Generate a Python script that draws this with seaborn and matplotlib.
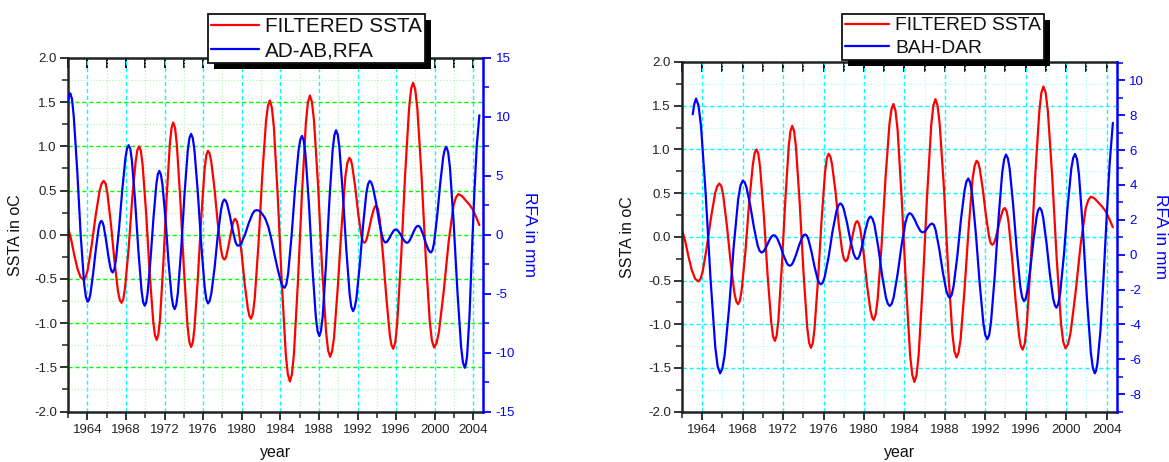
import matplotlib
matplotlib.use("Agg")
import matplotlib.pyplot as plt
import seaborn as sns
import pandas as pd
from matplotlib.ticker import MultipleLocator, FixedLocator
from matplotlib.patches import Rectangle
from matplotlib.transforms import IdentityTransform
from matplotlib.lines import Line2D

# ---------------- data ----------------
sst_year = [1962.00, 1962.32, 1962.65, 1962.97, 1963.30, 1963.62, 1963.83, 1964.04, 1964.45, 1964.87,
            1965.28, 1965.49, 1965.70, 1965.89, 1966.07, 1966.44, 1966.81, 1967.18, 1967.37, 1967.55,
            1967.73, 1967.91, 1968.28, 1968.64, 1969.01, 1969.19, 1969.37, 1969.55, 1969.73, 1970.10,
            1970.46, 1970.83, 1971.01, 1971.19, 1971.36, 1971.53, 1971.87, 1972.22, 1972.56, 1972.73,
            1972.90, 1973.09, 1973.27, 1973.64, 1974.01, 1974.38, 1974.57, 1974.75, 1974.93, 1975.10,
            1975.45, 1975.80, 1976.15, 1976.33, 1976.50, 1976.67, 1976.84, 1977.17, 1977.51, 1977.84,
            1978.01, 1978.18, 1978.30, 1978.41, 1978.64, 1978.88, 1979.11, 1979.22, 1979.34, 1979.50,
            1979.66, 1979.99, 1980.31, 1980.64, 1980.80, 1980.96, 1981.16, 1981.35, 1981.74, 1982.13,
            1982.52, 1982.72, 1982.91, 1983.12, 1983.33, 1983.74, 1984.16, 1984.57, 1984.78, 1984.99,
            1985.20, 1985.41, 1985.82, 1986.24, 1986.65, 1986.86, 1987.07, 1987.28, 1987.49, 1987.91,
            1988.32, 1988.74, 1988.95, 1989.16, 1989.36, 1989.56, 1989.95, 1990.35, 1990.74, 1990.94,
            1991.14, 1991.30, 1991.45, 1991.76, 1992.07, 1992.38, 1992.53, 1992.69, 1992.82, 1992.94,
            1993.19, 1993.44, 1993.69, 1993.82, 1993.94, 1994.12, 1994.29, 1994.64, 1995.00, 1995.35,
            1995.52, 1995.70, 1995.91, 1996.11, 1996.52, 1996.93, 1997.34, 1997.55, 1997.75, 1997.97,
            1998.19, 1998.62, 1999.06, 1999.49, 1999.71, 1999.93, 2000.18, 2000.43, 2000.93, 2001.44,
            2001.94, 2002.19, 2002.44, 2002.80, 2003.20, 2003.60, 2003.92, 2004.25, 2004.62]
sst_value = [0.08, -0.05, -0.23, -0.38, -0.48, -0.51, -0.48, -0.40, -0.12, 0.22,
             0.50, 0.58, 0.61, 0.58, 0.48, 0.13, -0.29, -0.64, -0.74, -0.77,
             -0.73, -0.60, -0.16, 0.39, 0.83, 0.96, 1.00, 0.95, 0.79, 0.24,
             -0.43, -0.98, -1.14, -1.19, -1.13, -0.96, -0.34, 0.42, 1.04, 1.21,
             1.27, 1.21, 1.03, 0.39, -0.39, -1.03, -1.21, -1.27, -1.22, -1.06,
             -0.50, 0.18, 0.74, 0.90, 0.95, 0.92, 0.83, 0.53, 0.14, -0.16,
             -0.25, -0.28, -0.27, -0.24, -0.12, 0.02, 0.14, 0.17, 0.18, 0.15,
             0.07, -0.21, -0.56, -0.84, -0.92, -0.95, -0.89, -0.72, -0.10, 0.67,
             1.29, 1.46, 1.52, 1.44, 1.22, 0.42, -0.56, -1.36, -1.58, -1.66,
             -1.58, -1.35, -0.54, 0.46, 1.27, 1.50, 1.575, 1.50, 1.29, 0.56,
             -0.36, -1.10, -1.31, -1.38, -1.32, -1.17, -0.60, 0.09, 0.66, 0.81,
             0.87, 0.85, 0.78, 0.54, 0.24, 0.00, -0.07, -0.09, -0.08, -0.05,
             0.06, 0.19, 0.29, 0.32, 0.33, 0.29, 0.18, -0.23, -0.73, -1.14,
             -1.25, -1.29, -1.22, -1.00, -0.25, 0.68, 1.43, 1.65, 1.72, 1.65,
             1.44, 0.69, -0.24, -0.99, -1.20, -1.275, -1.23, -1.10, -0.64, -0.08,
             0.33, 0.42, 0.46, 0.44, 0.39, 0.34, 0.29, 0.21, 0.11]

adab_year = [1962.00, 1962.12, 1962.24, 1962.42, 1962.60, 1962.96, 1963.32, 1963.68, 1963.86, 1964.04,
             1964.18, 1964.32, 1964.60, 1964.89, 1965.17, 1965.31, 1965.45, 1965.57, 1965.69, 1965.92,
             1966.16, 1966.39, 1966.51, 1966.63, 1966.80, 1966.96, 1967.29, 1967.63, 1967.96, 1968.12,
             1968.29, 1968.46, 1968.62, 1968.95, 1969.29, 1969.62, 1969.78, 1969.95, 1970.10, 1970.25,
             1970.55, 1970.86, 1971.16, 1971.31, 1971.46, 1971.62, 1971.78, 1972.10, 1972.41, 1972.73,
             1972.89, 1973.05, 1973.22, 1973.39, 1973.73, 1974.07, 1974.41, 1974.58, 1974.75, 1974.93,
             1975.10, 1975.45, 1975.81, 1976.16, 1976.33, 1976.51, 1976.68, 1976.85, 1977.19, 1977.52,
             1977.86, 1978.03, 1978.20, 1978.34, 1978.48, 1978.77, 1979.05, 1979.34, 1979.48, 1979.62,
             1979.81, 1980.00, 1980.38, 1980.75, 1981.13, 1981.32, 1981.51, 1981.73, 1981.95, 1982.40,
             1982.75, 1983.05, 1983.40, 1983.75, 1984.10, 1984.28, 1984.45, 1984.63, 1984.81, 1985.17,
             1985.53, 1985.89, 1986.07, 1986.25, 1986.43, 1986.61, 1986.97, 1987.32, 1987.68, 1987.86,
             1988.04, 1988.21, 1988.39, 1988.73, 1989.08, 1989.42, 1989.60, 1989.77, 1989.95, 1990.12,
             1990.47, 1990.83, 1991.18, 1991.35, 1991.53, 1991.70, 1991.88, 1992.22, 1992.57, 1992.91,
             1993.09, 1993.26, 1993.42, 1993.58, 1993.91, 1994.23, 1994.56, 1994.72, 1994.88, 1994.99,
             1995.10, 1995.31, 1995.53, 1995.74, 1995.85, 1995.96, 1996.08, 1996.19, 1996.43, 1996.66,
             1996.90, 1997.01, 1997.13, 1997.24, 1997.36, 1997.59, 1997.81, 1998.04, 1998.16, 1998.27,
             1998.41, 1998.54, 1998.81, 1999.08, 1999.35, 1999.49, 1999.62, 1999.78, 1999.94, 2000.25,
             2000.57, 2000.88, 2001.04, 2001.20, 2001.39, 2001.58, 2001.96, 2002.35, 2002.73, 2002.92,
             2003.11, 2003.23, 2003.35, 2003.60, 2003.85, 2004.10, 2004.35, 2004.62]
adab_rfa = [11.3, 11.8, 12.0, 11.5, 10.0, 5.4, -0.1, -4.2, -5.3, -5.69,
            -5.52, -5.04, -3.32, -1.19, 0.53, 1.01, 1.18, 1.07, 0.76, -0.33,
            -1.69, -2.78, -3.09, -3.20, -2.94, -2.17, 0.53, 3.87, 6.57, 7.34,
            7.60, 7.27, 6.31, 2.90, -1.33, -4.74, -5.70, -6.03, -5.75, -4.94,
            -2.08, 1.47, 4.33, 5.14, 5.42, 5.13, 4.31, 1.37, -2.26, -5.20,
            -6.02, -6.31, -5.95, -4.90, -1.18, 3.43, 7.15, 8.20, 8.56, 8.21,
            7.19, 3.60, -0.87, -4.46, -5.48, -5.83, -5.61, -4.99, -2.79, -0.05,
            2.15, 2.77, 2.99, 2.89, 2.62, 1.63, 0.42, -0.57, -0.84, -0.94,
            -0.87, -0.65, 0.11, 1.04, 1.80, 2.02, 2.09, 2.06, 1.95, 1.45,
            0.70, -0.30, -1.70, -3.00, -4.10, -4.40, -4.50, -4.18, -3.28, -0.05,
            3.94, 7.17, 8.07, 8.39, 7.97, 6.78, 2.53, -2.74, -6.99, -8.18,
            -8.60, -8.17, -6.94, -2.57, 2.84, 7.21, 8.44, 8.87, 8.49, 7.41,
            3.57, -1.18, -5.02, -6.10, -6.48, -6.21, -5.43, -2.67, 0.76, 3.52,
            4.30, 4.57, 4.44, 4.07, 2.77, 1.14, -0.16, -0.53, -0.66, -0.63,
            -0.55, -0.28, 0.07, 0.34, 0.42, 0.45, 0.42, 0.34, 0.06, -0.29,
            -0.57, -0.65, -0.68, -0.64, -0.54, -0.18, 0.26, 0.62, 0.72, 0.76,
            0.70, 0.55, -0.02, -0.72, -1.29, -1.45, -1.50, -1.28, -0.65, 1.59,
            4.37, 6.61, 7.24, 7.46, 7.00, 5.68, 0.99, -4.82, -9.51, -10.83,
            -11.29, -11.0, -10.3, -6.9, -1.5, 3.5, 7.5, 10.14]

bahdar_year = [1963.06, 1963.22, 1963.39, 1963.63, 1963.87, 1964.34, 1964.82, 1965.29, 1965.53, 1965.77,
               1965.99, 1966.22, 1966.67, 1967.11, 1967.56, 1967.79, 1968.01, 1968.20, 1968.38, 1968.75,
               1969.12, 1969.49, 1969.67, 1969.86, 1969.98, 1970.11, 1970.35, 1970.60, 1970.84, 1970.97,
               1971.09, 1971.25, 1971.41, 1971.72, 1972.04, 1972.35, 1972.51, 1972.67, 1972.82, 1972.97,
               1973.28, 1973.58, 1973.89, 1974.04, 1974.19, 1974.35, 1974.50, 1974.81, 1975.12, 1975.43,
               1975.59, 1975.74, 1975.93, 1976.12, 1976.51, 1976.89, 1977.28, 1977.47, 1977.66, 1977.83,
               1977.99, 1978.32, 1978.65, 1978.98, 1979.15, 1979.31, 1979.45, 1979.58, 1979.85, 1980.12,
               1980.39, 1980.53, 1980.66, 1980.85, 1981.04, 1981.42, 1981.79, 1982.17, 1982.36, 1982.55,
               1982.75, 1982.94, 1983.33, 1983.72, 1984.11, 1984.31, 1984.50, 1984.63, 1984.76, 1985.03,
               1985.29, 1985.56, 1985.69, 1985.82, 1986.01, 1986.19, 1986.38, 1986.56, 1986.75, 1986.93,
               1987.10, 1987.45, 1987.80, 1988.15, 1988.33, 1988.50, 1988.68, 1988.86, 1989.23, 1989.59,
               1989.96, 1990.14, 1990.32, 1990.51, 1990.70, 1991.07, 1991.45, 1991.82, 1992.01, 1992.20,
               1992.39, 1992.57, 1992.94, 1993.31, 1993.68, 1993.87, 1994.05, 1994.23, 1994.41, 1994.76,
               1995.12, 1995.47, 1995.65, 1995.83, 1995.99, 1996.14, 1996.45, 1996.77, 1997.08, 1997.23,
               1997.39, 1997.56, 1997.72, 1998.05, 1998.38, 1998.71, 1998.88, 1999.04, 1999.22, 1999.41,
               1999.78, 2000.14, 2000.51, 2000.70, 2000.88, 2001.08, 2001.27, 2001.66, 2002.05, 2002.44,
               2002.64, 2002.83, 2002.96, 2003.10, 2003.40, 2003.70, 2004.00, 2004.30, 2004.62]
bahdar_rfa = [8.05, 8.65, 8.95, 8.56, 7.45, 3.52, -1.37, -5.30, -6.41, -6.80,
              -6.53, -5.75, -2.99, 0.44, 3.20, 3.98, 4.25, 4.15, 3.86, 2.83,
              1.55, 0.52, 0.23, 0.13, 0.15, 0.22, 0.47, 0.78, 1.03, 1.10,
              1.12, 1.08, 0.95, 0.52, -0.03, -0.46, -0.59, -0.63, -0.59, -0.46,
              -0.01, 0.54, 0.99, 1.12, 1.16, 1.09, 0.89, 0.17, -0.71, -1.43,
              -1.63, -1.70, -1.59, -1.26, -0.10, 1.34, 2.50, 2.83, 2.94, 2.86,
              2.64, 1.84, 0.85, 0.05, -0.17, -0.25, -0.19, -0.02, 0.59, 1.35,
              1.96, 2.13, 2.19, 2.06, 1.70, 0.42, -1.17, -2.45, -2.81, -2.94,
              -2.81, -2.43, -1.10, 0.54, 1.87, 2.25, 2.38, 2.35, 2.28, 2.00,
              1.66, 1.38, 1.31, 1.28, 1.33, 1.46, 1.61, 1.74, 1.79, 1.69,
              1.39, 0.32, -1.00, -2.07, -2.37, -2.47, -2.30, -1.82, -0.11, 2.01,
              3.72, 4.20, 4.37, 4.14, 3.49, 1.19, -1.67, -3.97, -4.62, -4.85,
              -4.59, -3.84, -1.20, 2.09, 4.73, 5.48, 5.74, 5.53, 4.94, 2.84,
              0.24, -1.86, -2.45, -2.66, -2.53, -2.15, -0.81, 0.84, 2.18, 2.56,
              2.69, 2.55, 2.15, 0.71, -1.06, -2.50, -2.90, -3.04, -2.82, -2.20,
              0.00, 2.74, 4.94, 5.56, 5.78, 5.47, 4.58, 1.44, -2.46, -5.60,
              -6.49, -6.80, -6.65, -6.2, -4.3, -1.3, 2.1, 5.2, 7.56]

sst_label = "FILTERED SSTA"
rfa_labels = ["AD-AB,RFA", "BAH-DAR"]
year_ticks = [1964, 1968, 1972, 1976, 1980, 1984, 1988, 1992, 1996, 2000, 2004]
sst_ticks = [-2.0, -1.5, -1.0, -0.5, 0.0, 0.5, 1.0, 1.5, 2.0]
rfa_ticks_left = [-15, -10, -5, 0, 5, 10, 15]
rfa_ticks_right = [-8, -6, -4, -2, 0, 2, 4, 6, 8, 10]

# ---------------- style ----------------
sns.set_theme(style="white")
plt.rcParams["font.family"] = ["Liberation Sans", "DejaVu Sans"]
plt.rcParams["axes.unicode_minus"] = False

RED = "#FF0000"
BLUE = "#0000FF"
LW = 1.6

fig = plt.figure(figsize=(11.69, 4.62), dpi=100)
W, H = 1169.0, 462.0


def make_panel(px, rfa_year, rfa_vals, rfa_label, rfa_lim, rfa_ticks, rfa_minor,
               grid_style, leg_px, leg_fs, ylab_off, rlab_off):
    x0, x1, ytop, ybot = px
    ax = fig.add_axes([x0 / W, 1 - ybot / H, (x1 - x0) / W, (ybot - ytop) / H])
    ax.set_facecolor("white")
    ax2 = ax.twinx()

    df_s = pd.DataFrame({"year": sst_year, "v": sst_value})
    df_r = pd.DataFrame({"year": rfa_year, "v": rfa_vals})
    sns.lineplot(data=df_s, x="year", y="v", ax=ax, color=RED, lw=LW,
                 sort=False, estimator=None, legend=False)
    sns.lineplot(data=df_r, x="year", y="v", ax=ax2, color=BLUE, lw=LW,
                 sort=False, estimator=None, legend=False)
    for a in (ax, ax2):
        for ln in a.get_lines():
            ln.set_solid_joinstyle("round")
            ln.set_solid_capstyle("round")

    ax.set_xlim(1962, 2005)
    ax.set_ylim(-2.0, 2.0)
    ax2.set_ylim(*rfa_lim)

    ax.xaxis.set_major_locator(FixedLocator(year_ticks))
    ax.xaxis.set_minor_locator(MultipleLocator(2))
    ax.yaxis.set_major_locator(FixedLocator(sst_ticks))
    ax.yaxis.set_minor_locator(MultipleLocator(0.25))
    ax.set_yticklabels([f"{t:.1f}" for t in sst_ticks])
    ax2.yaxis.set_major_locator(FixedLocator(rfa_ticks))
    ax2.yaxis.set_minor_locator(MultipleLocator(rfa_minor))
    ax2.set_yticklabels([str(t) for t in rfa_ticks])

    # grid
    ax.set_axisbelow(True)
    if grid_style == "green":
        ax.grid(True, which="major", axis="x", color="#00FFFF", ls=(0, (3, 2)), lw=1.0)
        ax.grid(True, which="minor", axis="x", color="#B8F5B8", ls=(0, (1, 1.5)), lw=0.9)
        ax.grid(True, which="major", axis="y", color="#00FF00", ls=(0, (3, 2)), lw=1.0)
        ax.grid(True, which="minor", axis="y", color="#B8F5B8", ls=(0, (1, 1.5)), lw=0.9)
    else:
        ax.grid(True, which="major", axis="both", color="#00FFFF", ls=(0, (3, 2)), lw=1.0)
        ax.grid(True, which="minor", axis="both", color="#A8FFFF", ls=(0, (1, 1.5)), lw=0.9)

    # spines
    for s in ["left", "top", "bottom"]:
        ax.spines[s].set_color("#222222")
        ax.spines[s].set_linewidth(1.8)
        ax2.spines[s].set_visible(False)
    ax.spines["right"].set_visible(False)
    ax2.spines["right"].set_color(BLUE)
    ax2.spines["right"].set_linewidth(1.8)

    # ticks
    ax.tick_params(axis="x", which="both", bottom=True, top=False, direction="out",
                   colors="#222222", labelcolor="#222222", labelsize=9.5, pad=3)
    ax.tick_params(axis="x", which="major", length=6, width=1.3)
    ax.tick_params(axis="x", which="minor", length=4, width=1.1)
    ax.tick_params(axis="y", which="both", left=True, right=False, direction="out",
                   colors="#222222", labelcolor="#222222", labelsize=9.5, pad=2)
    ax.tick_params(axis="y", which="major", length=6, width=1.3)
    ax.tick_params(axis="y", which="minor", length=4, width=1.1)
    top = ax.secondary_xaxis("top")
    top.xaxis.set_major_locator(FixedLocator(year_ticks))
    top.xaxis.set_minor_locator(MultipleLocator(2))
    top.tick_params(which="both", direction="in", length=7, width=1.4,
                    labeltop=False, colors="#111111")
    top.spines["top"].set_visible(False)
    ax2.tick_params(axis="y", which="both", right=True, direction="out",
                    colors=BLUE, labelcolor=BLUE, labelsize=9.5, pad=3)
    ax2.tick_params(axis="y", which="major", length=6, width=1.3)
    ax2.tick_params(axis="y", which="minor", length=4, width=1.1)

    # labels
    ax.set_xlabel("year", fontsize=11.5, color="#111111")
    ax.xaxis.set_label_coords(0.5, -(453 - ybot) / (ybot - ytop))
    ax.xaxis.label.set_va("center")
    ax.set_ylabel("SSTA in oC", fontsize=11.5, color="#111111", va="center")
    ax.yaxis.set_label_coords(-ylab_off / (x1 - x0), 0.5)
    ax2.set_ylabel("RFA in mm", fontsize=12.5, color=BLUE, rotation=270,
                   va="center", ha="center")
    ax2.yaxis.set_label_coords(1 + rlab_off / (x1 - x0), 0.5)

    # legend
    handles = [Line2D([], [], color=RED, lw=LW), Line2D([], [], color=BLUE, lw=LW)]
    lx, ly = leg_px
    leg = ax2.legend(handles, [sst_label, rfa_label], loc="upper left",
                     bbox_to_anchor=((lx - x0) / (x1 - x0), (ybot - ly) / (ybot - ytop)),
                     borderaxespad=0, fontsize=leg_fs, frameon=True, fancybox=False,
                     framealpha=1, edgecolor="#111111", handlelength=2.3,
                     handletextpad=0.3, borderpad=0.15, labelspacing=0.25)
    leg.get_frame().set_linewidth(1.3)
    for t in leg.get_texts():
        t.set_color("#111111")
    leg.set_zorder(10)
    return ax, ax2, leg


ax_l, ax_l2, leg_l = make_panel((68, 483, 58, 411.5), adab_year, adab_rfa, rfa_labels[0],
                                (-15, 15), rfa_ticks_left, 2.5, "green",
                                (208, 14), 14.9, 52, 46)
ax_r, ax_r2, leg_r = make_panel((682, 1116.7, 62, 411.7), bahdar_year, bahdar_rfa, rfa_labels[1],
                                (-9, 11.05), rfa_ticks_right, 1, "cyan",
                                (842, 14), 13.9, 55, 44)

# black drop shadow behind legends
fig.canvas.draw()
renderer = fig.canvas.get_renderer()
for ax2, leg in [(ax_l2, leg_l), (ax_r2, leg_r)]:
    bb = leg.get_window_extent(renderer)
    sh = Rectangle((bb.x0 + 6, bb.y0 - 6), bb.width, bb.height, transform=IdentityTransform(),
                   facecolor="black", edgecolor="none", clip_on=False, zorder=9)
    ax2.add_artist(sh)

fig.savefig("out.png", dpi=100)
